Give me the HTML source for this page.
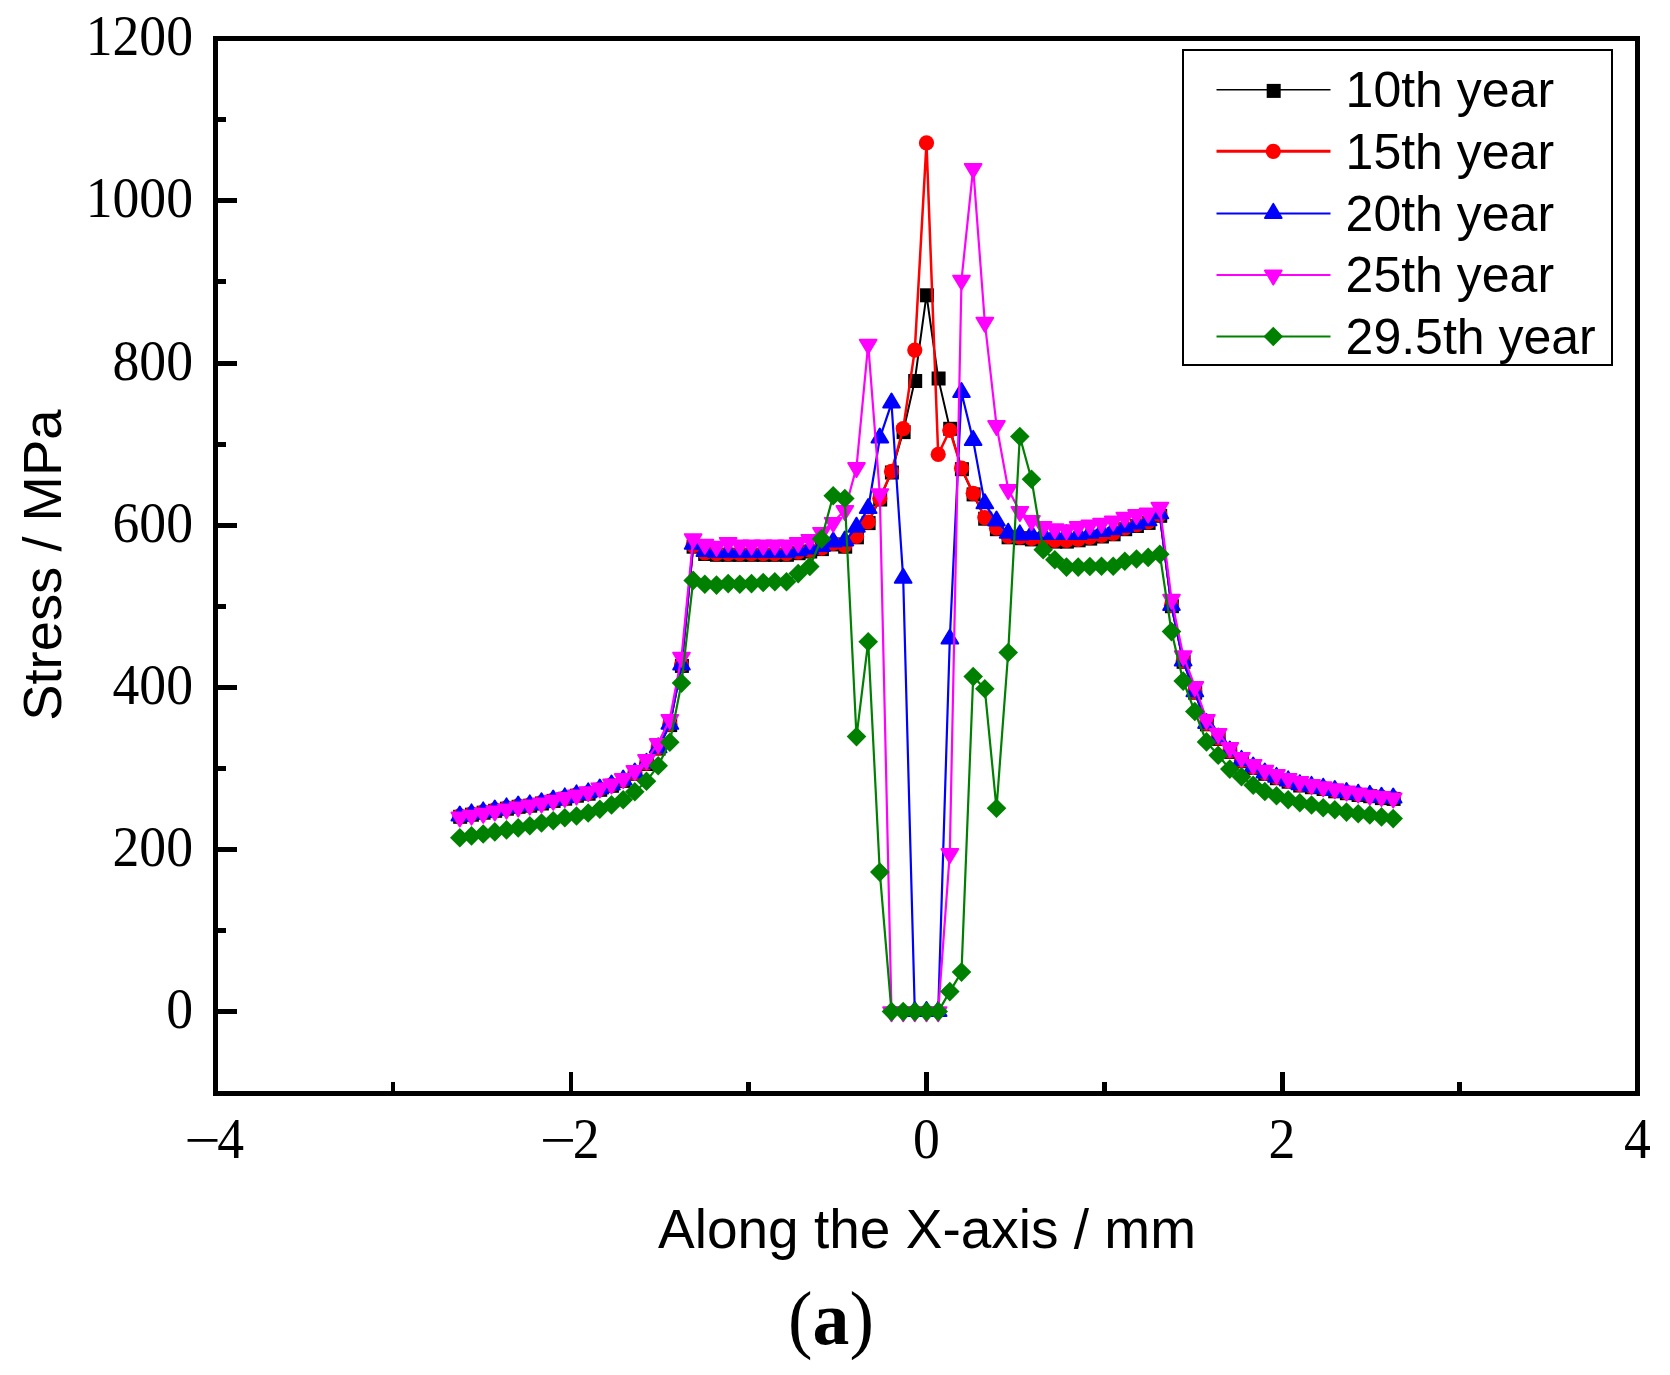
<!DOCTYPE html>
<html lang="en"><head><meta charset="utf-8"><title>Stress along the X-axis</title>
<style>
html,body{margin:0;padding:0;background:#fff;}
body{width:1670px;height:1375px;overflow:hidden;}
svg{display:block;}
.ser{font-family:"Liberation Serif","Times New Roman",serif;font-size:56px;fill:#000;}
.san{font-family:"Liberation Sans",Arial,sans-serif;fill:#000;}
</style></head><body>
<svg width="1670" height="1375" viewBox="0 0 1670 1375" role="img" aria-label="Stress along the X-axis for different years">
<rect x="0" y="0" width="1670" height="1375" fill="#ffffff"/>
<g><polyline points="459.8,816.4 471.5,814.3 483.2,812.3 494.8,810.4 506.5,808.3 518.2,806.4 529.8,805.3 541.5,803.1 553.2,800.5 564.8,798.3 576.5,795.3 588.2,793.3 599.8,789.4 611.5,785.4 623.2,780.5 634.8,773.4 646.5,763.6 658.2,748.2 669.8,724.7 681.5,665.5 693.2,546.3 704.8,553.6 716.5,554.4 728.2,554.4 739.8,554.4 751.5,554.4 763.2,554.4 774.8,554.4 786.5,554.4 798.2,552.8 809.8,551.1 821.5,548.7 833.2,544.0 844.8,546.3 856.5,536.9 868.2,522.7 879.8,499.1 891.5,472.1 903.2,431.7 914.8,380.6 926.5,294.9 938.2,378.1 949.8,428.4 961.5,468.8 973.2,494.0 984.8,518.3 996.5,528.8 1008.2,536.9 1019.8,537.8 1031.5,539.0 1043.2,539.5 1054.8,541.2 1066.5,541.2 1078.2,539.9 1089.8,538.2 1101.5,536.1 1113.2,533.9 1124.8,528.8 1136.5,525.6 1148.2,522.5 1159.8,515.4 1171.5,605.8 1183.2,661.4 1194.8,692.3 1206.5,723.9 1218.2,738.5 1229.8,751.5 1241.5,760.8 1253.2,767.5 1264.8,773.4 1276.5,777.8 1288.2,781.3 1299.8,785.1 1311.5,786.8 1323.2,788.6 1334.8,790.9 1346.5,792.8 1358.2,794.6 1369.8,795.8 1381.5,797.7 1393.2,798.5" fill="none" stroke="#000000" stroke-width="2.0" stroke-linejoin="round"/>
<rect x="453.2" y="809.8" width="14" height="14" fill="#000000"/><rect x="464.9" y="807.7" width="14" height="14" fill="#000000"/><rect x="476.6" y="805.7" width="14" height="14" fill="#000000"/><rect x="488.2" y="803.8" width="14" height="14" fill="#000000"/><rect x="499.9" y="801.7" width="14" height="14" fill="#000000"/><rect x="511.6" y="799.8" width="14" height="14" fill="#000000"/><rect x="523.2" y="798.7" width="14" height="14" fill="#000000"/><rect x="534.9" y="796.5" width="14" height="14" fill="#000000"/><rect x="546.6" y="793.9" width="14" height="14" fill="#000000"/><rect x="558.2" y="791.7" width="14" height="14" fill="#000000"/><rect x="569.9" y="788.7" width="14" height="14" fill="#000000"/><rect x="581.6" y="786.7" width="14" height="14" fill="#000000"/><rect x="593.2" y="782.8" width="14" height="14" fill="#000000"/><rect x="604.9" y="778.8" width="14" height="14" fill="#000000"/><rect x="616.6" y="773.9" width="14" height="14" fill="#000000"/><rect x="628.2" y="766.8" width="14" height="14" fill="#000000"/><rect x="639.9" y="757.0" width="14" height="14" fill="#000000"/><rect x="651.6" y="741.6" width="14" height="14" fill="#000000"/><rect x="663.2" y="718.1" width="14" height="14" fill="#000000"/><rect x="674.9" y="658.9" width="14" height="14" fill="#000000"/><rect x="686.6" y="539.7" width="14" height="14" fill="#000000"/><rect x="698.2" y="547.0" width="14" height="14" fill="#000000"/><rect x="709.9" y="547.8" width="14" height="14" fill="#000000"/><rect x="721.6" y="547.8" width="14" height="14" fill="#000000"/><rect x="733.2" y="547.8" width="14" height="14" fill="#000000"/><rect x="744.9" y="547.8" width="14" height="14" fill="#000000"/><rect x="756.6" y="547.8" width="14" height="14" fill="#000000"/><rect x="768.2" y="547.8" width="14" height="14" fill="#000000"/><rect x="779.9" y="547.8" width="14" height="14" fill="#000000"/><rect x="791.6" y="546.2" width="14" height="14" fill="#000000"/><rect x="803.2" y="544.5" width="14" height="14" fill="#000000"/><rect x="814.9" y="542.1" width="14" height="14" fill="#000000"/><rect x="826.6" y="537.4" width="14" height="14" fill="#000000"/><rect x="838.2" y="539.7" width="14" height="14" fill="#000000"/><rect x="849.9" y="530.3" width="14" height="14" fill="#000000"/><rect x="861.6" y="516.1" width="14" height="14" fill="#000000"/><rect x="873.2" y="492.5" width="14" height="14" fill="#000000"/><rect x="884.9" y="465.5" width="14" height="14" fill="#000000"/><rect x="896.6" y="425.1" width="14" height="14" fill="#000000"/><rect x="908.2" y="374.0" width="14" height="14" fill="#000000"/><rect x="919.9" y="288.3" width="14" height="14" fill="#000000"/><rect x="931.6" y="371.5" width="14" height="14" fill="#000000"/><rect x="943.2" y="421.8" width="14" height="14" fill="#000000"/><rect x="954.9" y="462.2" width="14" height="14" fill="#000000"/><rect x="966.6" y="487.4" width="14" height="14" fill="#000000"/><rect x="978.2" y="511.7" width="14" height="14" fill="#000000"/><rect x="989.9" y="522.2" width="14" height="14" fill="#000000"/><rect x="1001.6" y="530.3" width="14" height="14" fill="#000000"/><rect x="1013.2" y="531.2" width="14" height="14" fill="#000000"/><rect x="1024.9" y="532.4" width="14" height="14" fill="#000000"/><rect x="1036.6" y="532.9" width="14" height="14" fill="#000000"/><rect x="1048.2" y="534.6" width="14" height="14" fill="#000000"/><rect x="1059.9" y="534.6" width="14" height="14" fill="#000000"/><rect x="1071.6" y="533.3" width="14" height="14" fill="#000000"/><rect x="1083.2" y="531.6" width="14" height="14" fill="#000000"/><rect x="1094.9" y="529.5" width="14" height="14" fill="#000000"/><rect x="1106.6" y="527.3" width="14" height="14" fill="#000000"/><rect x="1118.2" y="522.2" width="14" height="14" fill="#000000"/><rect x="1129.9" y="519.0" width="14" height="14" fill="#000000"/><rect x="1141.6" y="515.9" width="14" height="14" fill="#000000"/><rect x="1153.2" y="508.8" width="14" height="14" fill="#000000"/><rect x="1164.9" y="599.2" width="14" height="14" fill="#000000"/><rect x="1176.6" y="654.8" width="14" height="14" fill="#000000"/><rect x="1188.2" y="685.7" width="14" height="14" fill="#000000"/><rect x="1199.9" y="717.3" width="14" height="14" fill="#000000"/><rect x="1211.6" y="731.9" width="14" height="14" fill="#000000"/><rect x="1223.2" y="744.9" width="14" height="14" fill="#000000"/><rect x="1234.9" y="754.2" width="14" height="14" fill="#000000"/><rect x="1246.6" y="760.9" width="14" height="14" fill="#000000"/><rect x="1258.2" y="766.8" width="14" height="14" fill="#000000"/><rect x="1269.9" y="771.2" width="14" height="14" fill="#000000"/><rect x="1281.6" y="774.7" width="14" height="14" fill="#000000"/><rect x="1293.2" y="778.5" width="14" height="14" fill="#000000"/><rect x="1304.9" y="780.2" width="14" height="14" fill="#000000"/><rect x="1316.6" y="782.0" width="14" height="14" fill="#000000"/><rect x="1328.2" y="784.3" width="14" height="14" fill="#000000"/><rect x="1339.9" y="786.2" width="14" height="14" fill="#000000"/><rect x="1351.6" y="788.0" width="14" height="14" fill="#000000"/><rect x="1363.2" y="789.2" width="14" height="14" fill="#000000"/><rect x="1374.9" y="791.1" width="14" height="14" fill="#000000"/><rect x="1386.6" y="791.9" width="14" height="14" fill="#000000"/>
</g>
<g><polyline points="459.8,815.9 471.5,813.8 483.2,811.8 494.8,809.9 506.5,807.8 518.2,805.9 529.8,804.8 541.5,802.7 553.2,800.0 564.8,797.8 576.5,794.8 588.2,792.8 599.8,789.0 611.5,784.9 623.2,780.0 634.8,772.9 646.5,763.2 658.2,747.7 669.8,724.2 681.5,665.0 693.2,545.6 704.8,552.9 716.5,553.7 728.2,553.7 739.8,553.7 751.5,553.7 763.2,553.7 774.8,553.7 786.5,553.7 798.2,552.1 809.8,550.5 821.5,548.1 833.2,543.4 844.8,545.6 856.5,536.3 868.2,522.0 879.8,498.4 891.5,471.4 903.2,428.6 914.8,350.1 926.5,142.9 938.2,454.4 949.8,430.3 961.5,468.2 973.2,493.3 984.8,517.6 996.5,528.2 1008.2,536.3 1019.8,537.1 1031.5,538.3 1043.2,538.9 1054.8,540.5 1066.5,540.5 1078.2,539.3 1089.8,537.5 1101.5,535.5 1113.2,533.3 1124.8,528.2 1136.5,524.9 1148.2,521.9 1159.8,514.7 1171.5,605.3 1183.2,661.0 1194.8,691.8 1206.5,723.4 1218.2,738.0 1229.8,751.0 1241.5,760.3 1253.2,767.1 1264.8,772.9 1276.5,777.3 1288.2,780.8 1299.8,784.7 1311.5,786.3 1323.2,788.1 1334.8,790.4 1346.5,792.4 1358.2,794.1 1369.8,795.3 1381.5,797.2 1393.2,798.0" fill="none" stroke="#ff0000" stroke-width="2.5" stroke-linejoin="round"/>
<circle cx="459.8" cy="815.9" r="7.6" fill="#ff0000"/><circle cx="471.5" cy="813.8" r="7.6" fill="#ff0000"/><circle cx="483.2" cy="811.8" r="7.6" fill="#ff0000"/><circle cx="494.8" cy="809.9" r="7.6" fill="#ff0000"/><circle cx="506.5" cy="807.8" r="7.6" fill="#ff0000"/><circle cx="518.2" cy="805.9" r="7.6" fill="#ff0000"/><circle cx="529.8" cy="804.8" r="7.6" fill="#ff0000"/><circle cx="541.5" cy="802.7" r="7.6" fill="#ff0000"/><circle cx="553.2" cy="800.0" r="7.6" fill="#ff0000"/><circle cx="564.8" cy="797.8" r="7.6" fill="#ff0000"/><circle cx="576.5" cy="794.8" r="7.6" fill="#ff0000"/><circle cx="588.2" cy="792.8" r="7.6" fill="#ff0000"/><circle cx="599.8" cy="789.0" r="7.6" fill="#ff0000"/><circle cx="611.5" cy="784.9" r="7.6" fill="#ff0000"/><circle cx="623.2" cy="780.0" r="7.6" fill="#ff0000"/><circle cx="634.8" cy="772.9" r="7.6" fill="#ff0000"/><circle cx="646.5" cy="763.2" r="7.6" fill="#ff0000"/><circle cx="658.2" cy="747.7" r="7.6" fill="#ff0000"/><circle cx="669.8" cy="724.2" r="7.6" fill="#ff0000"/><circle cx="681.5" cy="665.0" r="7.6" fill="#ff0000"/><circle cx="693.2" cy="545.6" r="7.6" fill="#ff0000"/><circle cx="704.8" cy="552.9" r="7.6" fill="#ff0000"/><circle cx="716.5" cy="553.7" r="7.6" fill="#ff0000"/><circle cx="728.2" cy="553.7" r="7.6" fill="#ff0000"/><circle cx="739.8" cy="553.7" r="7.6" fill="#ff0000"/><circle cx="751.5" cy="553.7" r="7.6" fill="#ff0000"/><circle cx="763.2" cy="553.7" r="7.6" fill="#ff0000"/><circle cx="774.8" cy="553.7" r="7.6" fill="#ff0000"/><circle cx="786.5" cy="553.7" r="7.6" fill="#ff0000"/><circle cx="798.2" cy="552.1" r="7.6" fill="#ff0000"/><circle cx="809.8" cy="550.5" r="7.6" fill="#ff0000"/><circle cx="821.5" cy="548.1" r="7.6" fill="#ff0000"/><circle cx="833.2" cy="543.4" r="7.6" fill="#ff0000"/><circle cx="844.8" cy="545.6" r="7.6" fill="#ff0000"/><circle cx="856.5" cy="536.3" r="7.6" fill="#ff0000"/><circle cx="868.2" cy="522.0" r="7.6" fill="#ff0000"/><circle cx="879.8" cy="498.4" r="7.6" fill="#ff0000"/><circle cx="891.5" cy="471.4" r="7.6" fill="#ff0000"/><circle cx="903.2" cy="428.6" r="7.6" fill="#ff0000"/><circle cx="914.8" cy="350.1" r="7.6" fill="#ff0000"/><circle cx="926.5" cy="142.9" r="7.6" fill="#ff0000"/><circle cx="938.2" cy="454.4" r="7.6" fill="#ff0000"/><circle cx="949.8" cy="430.3" r="7.6" fill="#ff0000"/><circle cx="961.5" cy="468.2" r="7.6" fill="#ff0000"/><circle cx="973.2" cy="493.3" r="7.6" fill="#ff0000"/><circle cx="984.8" cy="517.6" r="7.6" fill="#ff0000"/><circle cx="996.5" cy="528.2" r="7.6" fill="#ff0000"/><circle cx="1008.2" cy="536.3" r="7.6" fill="#ff0000"/><circle cx="1019.8" cy="537.1" r="7.6" fill="#ff0000"/><circle cx="1031.5" cy="538.3" r="7.6" fill="#ff0000"/><circle cx="1043.2" cy="538.9" r="7.6" fill="#ff0000"/><circle cx="1054.8" cy="540.5" r="7.6" fill="#ff0000"/><circle cx="1066.5" cy="540.5" r="7.6" fill="#ff0000"/><circle cx="1078.2" cy="539.3" r="7.6" fill="#ff0000"/><circle cx="1089.8" cy="537.5" r="7.6" fill="#ff0000"/><circle cx="1101.5" cy="535.5" r="7.6" fill="#ff0000"/><circle cx="1113.2" cy="533.3" r="7.6" fill="#ff0000"/><circle cx="1124.8" cy="528.2" r="7.6" fill="#ff0000"/><circle cx="1136.5" cy="524.9" r="7.6" fill="#ff0000"/><circle cx="1148.2" cy="521.9" r="7.6" fill="#ff0000"/><circle cx="1159.8" cy="514.7" r="7.6" fill="#ff0000"/><circle cx="1171.5" cy="605.3" r="7.6" fill="#ff0000"/><circle cx="1183.2" cy="661.0" r="7.6" fill="#ff0000"/><circle cx="1194.8" cy="691.8" r="7.6" fill="#ff0000"/><circle cx="1206.5" cy="723.4" r="7.6" fill="#ff0000"/><circle cx="1218.2" cy="738.0" r="7.6" fill="#ff0000"/><circle cx="1229.8" cy="751.0" r="7.6" fill="#ff0000"/><circle cx="1241.5" cy="760.3" r="7.6" fill="#ff0000"/><circle cx="1253.2" cy="767.1" r="7.6" fill="#ff0000"/><circle cx="1264.8" cy="772.9" r="7.6" fill="#ff0000"/><circle cx="1276.5" cy="777.3" r="7.6" fill="#ff0000"/><circle cx="1288.2" cy="780.8" r="7.6" fill="#ff0000"/><circle cx="1299.8" cy="784.7" r="7.6" fill="#ff0000"/><circle cx="1311.5" cy="786.3" r="7.6" fill="#ff0000"/><circle cx="1323.2" cy="788.1" r="7.6" fill="#ff0000"/><circle cx="1334.8" cy="790.4" r="7.6" fill="#ff0000"/><circle cx="1346.5" cy="792.4" r="7.6" fill="#ff0000"/><circle cx="1358.2" cy="794.1" r="7.6" fill="#ff0000"/><circle cx="1369.8" cy="795.3" r="7.6" fill="#ff0000"/><circle cx="1381.5" cy="797.2" r="7.6" fill="#ff0000"/><circle cx="1393.2" cy="798.0" r="7.6" fill="#ff0000"/>
</g>
<g><polyline points="459.8,816.1 471.5,814.0 483.2,812.1 494.8,810.1 506.5,808.0 518.2,806.1 529.8,805.0 541.5,802.9 553.2,800.2 564.8,798.0 576.5,795.0 588.2,793.0 599.8,789.2 611.5,785.1 623.2,780.3 634.8,773.1 646.5,763.4 658.2,748.0 669.8,724.5 681.5,665.3 693.2,544.4 704.8,551.7 716.5,552.5 728.2,552.5 739.8,552.5 751.5,552.5 763.2,552.5 774.8,552.5 786.5,552.5 798.2,550.9 809.8,549.3 821.5,546.8 833.2,542.1 844.8,541.2 856.5,527.4 868.2,508.7 879.8,438.2 891.5,403.3 903.2,578.5 914.8,1011.6 926.5,1011.6 938.2,1011.6 949.8,639.3 961.5,392.7 973.2,440.6 984.8,503.9 996.5,521.1 1008.2,533.4 1019.8,535.1 1031.5,534.8 1043.2,534.8 1054.8,534.8 1066.5,534.8 1078.2,534.8 1089.8,533.5 1101.5,531.8 1113.2,530.0 1124.8,527.4 1136.5,524.1 1148.2,521.0 1159.8,513.9 1171.5,605.6 1183.2,661.2 1194.8,692.0 1206.5,723.7 1218.2,738.3 1229.8,751.2 1241.5,760.6 1253.2,767.3 1264.8,773.1 1276.5,777.5 1288.2,781.1 1299.8,784.9 1311.5,786.5 1323.2,788.4 1334.8,790.7 1346.5,792.6 1358.2,794.4 1369.8,795.5 1381.5,797.5 1393.2,798.3" fill="none" stroke="#0000ff" stroke-width="2.2" stroke-linejoin="round"/>
<polygon points="459.8,806.5 468.2,820.4 451.5,820.4" fill="#0000ff" stroke="#0000ff" stroke-width="2" stroke-linejoin="round"/><polygon points="471.5,804.4 479.8,818.3 463.1,818.3" fill="#0000ff" stroke="#0000ff" stroke-width="2" stroke-linejoin="round"/><polygon points="483.2,802.4 491.5,816.4 474.8,816.4" fill="#0000ff" stroke="#0000ff" stroke-width="2" stroke-linejoin="round"/><polygon points="494.8,800.5 503.2,814.4 486.5,814.4" fill="#0000ff" stroke="#0000ff" stroke-width="2" stroke-linejoin="round"/><polygon points="506.5,798.4 514.8,812.3 498.1,812.3" fill="#0000ff" stroke="#0000ff" stroke-width="2" stroke-linejoin="round"/><polygon points="518.2,796.5 526.5,810.4 509.8,810.4" fill="#0000ff" stroke="#0000ff" stroke-width="2" stroke-linejoin="round"/><polygon points="529.8,795.4 538.2,809.3 521.5,809.3" fill="#0000ff" stroke="#0000ff" stroke-width="2" stroke-linejoin="round"/><polygon points="541.5,793.3 549.8,807.2 533.1,807.2" fill="#0000ff" stroke="#0000ff" stroke-width="2" stroke-linejoin="round"/><polygon points="553.2,790.6 561.5,804.5 544.8,804.5" fill="#0000ff" stroke="#0000ff" stroke-width="2" stroke-linejoin="round"/><polygon points="564.8,788.4 573.2,802.3 556.5,802.3" fill="#0000ff" stroke="#0000ff" stroke-width="2" stroke-linejoin="round"/><polygon points="576.5,785.4 584.8,799.3 568.1,799.3" fill="#0000ff" stroke="#0000ff" stroke-width="2" stroke-linejoin="round"/><polygon points="588.2,783.4 596.5,797.3 579.8,797.3" fill="#0000ff" stroke="#0000ff" stroke-width="2" stroke-linejoin="round"/><polygon points="599.8,779.5 608.2,793.5 591.5,793.5" fill="#0000ff" stroke="#0000ff" stroke-width="2" stroke-linejoin="round"/><polygon points="611.5,775.5 619.8,789.4 603.2,789.4" fill="#0000ff" stroke="#0000ff" stroke-width="2" stroke-linejoin="round"/><polygon points="623.2,770.6 631.5,784.6 614.8,784.6" fill="#0000ff" stroke="#0000ff" stroke-width="2" stroke-linejoin="round"/><polygon points="634.8,763.5 643.2,777.4 626.5,777.4" fill="#0000ff" stroke="#0000ff" stroke-width="2" stroke-linejoin="round"/><polygon points="646.5,753.8 654.8,767.7 638.2,767.7" fill="#0000ff" stroke="#0000ff" stroke-width="2" stroke-linejoin="round"/><polygon points="658.2,738.3 666.5,752.3 649.8,752.3" fill="#0000ff" stroke="#0000ff" stroke-width="2" stroke-linejoin="round"/><polygon points="669.8,714.8 678.2,728.8 661.5,728.8" fill="#0000ff" stroke="#0000ff" stroke-width="2" stroke-linejoin="round"/><polygon points="681.5,655.6 689.8,669.6 673.2,669.6" fill="#0000ff" stroke="#0000ff" stroke-width="2" stroke-linejoin="round"/><polygon points="693.2,534.8 701.5,548.7 684.8,548.7" fill="#0000ff" stroke="#0000ff" stroke-width="2" stroke-linejoin="round"/><polygon points="704.8,542.1 713.2,556.0 696.5,556.0" fill="#0000ff" stroke="#0000ff" stroke-width="2" stroke-linejoin="round"/><polygon points="716.5,542.9 724.8,556.8 708.2,556.8" fill="#0000ff" stroke="#0000ff" stroke-width="2" stroke-linejoin="round"/><polygon points="728.2,542.9 736.5,556.8 719.8,556.8" fill="#0000ff" stroke="#0000ff" stroke-width="2" stroke-linejoin="round"/><polygon points="739.8,542.9 748.2,556.8 731.5,556.8" fill="#0000ff" stroke="#0000ff" stroke-width="2" stroke-linejoin="round"/><polygon points="751.5,542.9 759.8,556.8 743.2,556.8" fill="#0000ff" stroke="#0000ff" stroke-width="2" stroke-linejoin="round"/><polygon points="763.2,542.9 771.5,556.8 754.8,556.8" fill="#0000ff" stroke="#0000ff" stroke-width="2" stroke-linejoin="round"/><polygon points="774.8,542.9 783.2,556.8 766.5,556.8" fill="#0000ff" stroke="#0000ff" stroke-width="2" stroke-linejoin="round"/><polygon points="786.5,542.9 794.8,556.8 778.2,556.8" fill="#0000ff" stroke="#0000ff" stroke-width="2" stroke-linejoin="round"/><polygon points="798.2,541.2 806.5,555.2 789.8,555.2" fill="#0000ff" stroke="#0000ff" stroke-width="2" stroke-linejoin="round"/><polygon points="809.8,539.6 818.2,553.6 801.5,553.6" fill="#0000ff" stroke="#0000ff" stroke-width="2" stroke-linejoin="round"/><polygon points="821.5,537.2 829.8,551.1 813.2,551.1" fill="#0000ff" stroke="#0000ff" stroke-width="2" stroke-linejoin="round"/><polygon points="833.2,532.5 841.5,546.4 824.8,546.4" fill="#0000ff" stroke="#0000ff" stroke-width="2" stroke-linejoin="round"/><polygon points="844.8,531.5 853.2,545.5 836.5,545.5" fill="#0000ff" stroke="#0000ff" stroke-width="2" stroke-linejoin="round"/><polygon points="856.5,517.7 864.8,531.7 848.2,531.7" fill="#0000ff" stroke="#0000ff" stroke-width="2" stroke-linejoin="round"/><polygon points="868.2,499.1 876.5,513.0 859.8,513.0" fill="#0000ff" stroke="#0000ff" stroke-width="2" stroke-linejoin="round"/><polygon points="879.8,428.5 888.2,442.5 871.5,442.5" fill="#0000ff" stroke="#0000ff" stroke-width="2" stroke-linejoin="round"/><polygon points="891.5,393.6 899.8,407.6 883.2,407.6" fill="#0000ff" stroke="#0000ff" stroke-width="2" stroke-linejoin="round"/><polygon points="903.2,568.8 911.5,582.8 894.8,582.8" fill="#0000ff" stroke="#0000ff" stroke-width="2" stroke-linejoin="round"/><polygon points="914.8,1002.0 923.2,1015.9 906.5,1015.9" fill="#0000ff" stroke="#0000ff" stroke-width="2" stroke-linejoin="round"/><polygon points="926.5,1002.0 934.8,1015.9 918.2,1015.9" fill="#0000ff" stroke="#0000ff" stroke-width="2" stroke-linejoin="round"/><polygon points="938.2,1002.0 946.5,1015.9 929.8,1015.9" fill="#0000ff" stroke="#0000ff" stroke-width="2" stroke-linejoin="round"/><polygon points="949.8,629.7 958.2,643.6 941.5,643.6" fill="#0000ff" stroke="#0000ff" stroke-width="2" stroke-linejoin="round"/><polygon points="961.5,383.1 969.8,397.0 953.2,397.0" fill="#0000ff" stroke="#0000ff" stroke-width="2" stroke-linejoin="round"/><polygon points="973.2,430.9 981.5,444.9 964.8,444.9" fill="#0000ff" stroke="#0000ff" stroke-width="2" stroke-linejoin="round"/><polygon points="984.8,494.2 993.2,508.2 976.5,508.2" fill="#0000ff" stroke="#0000ff" stroke-width="2" stroke-linejoin="round"/><polygon points="996.5,511.5 1004.8,525.4 988.2,525.4" fill="#0000ff" stroke="#0000ff" stroke-width="2" stroke-linejoin="round"/><polygon points="1008.2,523.7 1016.5,537.7 999.8,537.7" fill="#0000ff" stroke="#0000ff" stroke-width="2" stroke-linejoin="round"/><polygon points="1019.8,525.4 1028.2,539.4 1011.5,539.4" fill="#0000ff" stroke="#0000ff" stroke-width="2" stroke-linejoin="round"/><polygon points="1031.5,525.2 1039.8,539.1 1023.2,539.1" fill="#0000ff" stroke="#0000ff" stroke-width="2" stroke-linejoin="round"/><polygon points="1043.2,525.2 1051.5,539.1 1034.8,539.1" fill="#0000ff" stroke="#0000ff" stroke-width="2" stroke-linejoin="round"/><polygon points="1054.8,525.2 1063.2,539.1 1046.5,539.1" fill="#0000ff" stroke="#0000ff" stroke-width="2" stroke-linejoin="round"/><polygon points="1066.5,525.2 1074.8,539.1 1058.2,539.1" fill="#0000ff" stroke="#0000ff" stroke-width="2" stroke-linejoin="round"/><polygon points="1078.2,525.2 1086.5,539.1 1069.8,539.1" fill="#0000ff" stroke="#0000ff" stroke-width="2" stroke-linejoin="round"/><polygon points="1089.8,523.8 1098.2,537.8 1081.5,537.8" fill="#0000ff" stroke="#0000ff" stroke-width="2" stroke-linejoin="round"/><polygon points="1101.5,522.2 1109.8,536.1 1093.2,536.1" fill="#0000ff" stroke="#0000ff" stroke-width="2" stroke-linejoin="round"/><polygon points="1113.2,520.4 1121.5,534.3 1104.8,534.3" fill="#0000ff" stroke="#0000ff" stroke-width="2" stroke-linejoin="round"/><polygon points="1124.8,517.7 1133.2,531.7 1116.5,531.7" fill="#0000ff" stroke="#0000ff" stroke-width="2" stroke-linejoin="round"/><polygon points="1136.5,514.5 1144.8,528.4 1128.2,528.4" fill="#0000ff" stroke="#0000ff" stroke-width="2" stroke-linejoin="round"/><polygon points="1148.2,511.4 1156.5,525.3 1139.8,525.3" fill="#0000ff" stroke="#0000ff" stroke-width="2" stroke-linejoin="round"/><polygon points="1159.8,504.3 1168.2,518.2 1151.5,518.2" fill="#0000ff" stroke="#0000ff" stroke-width="2" stroke-linejoin="round"/><polygon points="1171.5,595.9 1179.8,609.9 1163.2,609.9" fill="#0000ff" stroke="#0000ff" stroke-width="2" stroke-linejoin="round"/><polygon points="1183.2,651.6 1191.5,665.5 1174.8,665.5" fill="#0000ff" stroke="#0000ff" stroke-width="2" stroke-linejoin="round"/><polygon points="1194.8,682.4 1203.2,696.3 1186.5,696.3" fill="#0000ff" stroke="#0000ff" stroke-width="2" stroke-linejoin="round"/><polygon points="1206.5,714.0 1214.8,728.0 1198.2,728.0" fill="#0000ff" stroke="#0000ff" stroke-width="2" stroke-linejoin="round"/><polygon points="1218.2,728.6 1226.5,742.6 1209.8,742.6" fill="#0000ff" stroke="#0000ff" stroke-width="2" stroke-linejoin="round"/><polygon points="1229.8,741.6 1238.2,755.5 1221.5,755.5" fill="#0000ff" stroke="#0000ff" stroke-width="2" stroke-linejoin="round"/><polygon points="1241.5,750.9 1249.8,764.9 1233.2,764.9" fill="#0000ff" stroke="#0000ff" stroke-width="2" stroke-linejoin="round"/><polygon points="1253.2,757.6 1261.5,771.6 1244.8,771.6" fill="#0000ff" stroke="#0000ff" stroke-width="2" stroke-linejoin="round"/><polygon points="1264.8,763.5 1273.2,777.4 1256.5,777.4" fill="#0000ff" stroke="#0000ff" stroke-width="2" stroke-linejoin="round"/><polygon points="1276.5,767.9 1284.8,781.8 1268.2,781.8" fill="#0000ff" stroke="#0000ff" stroke-width="2" stroke-linejoin="round"/><polygon points="1288.2,771.4 1296.5,785.4 1279.8,785.4" fill="#0000ff" stroke="#0000ff" stroke-width="2" stroke-linejoin="round"/><polygon points="1299.8,775.2 1308.2,789.2 1291.5,789.2" fill="#0000ff" stroke="#0000ff" stroke-width="2" stroke-linejoin="round"/><polygon points="1311.5,776.9 1319.9,790.8 1303.2,790.8" fill="#0000ff" stroke="#0000ff" stroke-width="2" stroke-linejoin="round"/><polygon points="1323.2,778.7 1331.5,792.7 1314.8,792.7" fill="#0000ff" stroke="#0000ff" stroke-width="2" stroke-linejoin="round"/><polygon points="1334.8,781.0 1343.2,795.0 1326.5,795.0" fill="#0000ff" stroke="#0000ff" stroke-width="2" stroke-linejoin="round"/><polygon points="1346.5,783.0 1354.9,796.9 1338.2,796.9" fill="#0000ff" stroke="#0000ff" stroke-width="2" stroke-linejoin="round"/><polygon points="1358.2,784.7 1366.5,798.7 1349.8,798.7" fill="#0000ff" stroke="#0000ff" stroke-width="2" stroke-linejoin="round"/><polygon points="1369.8,785.9 1378.2,799.8 1361.5,799.8" fill="#0000ff" stroke="#0000ff" stroke-width="2" stroke-linejoin="round"/><polygon points="1381.5,787.8 1389.9,801.8 1373.2,801.8" fill="#0000ff" stroke="#0000ff" stroke-width="2" stroke-linejoin="round"/><polygon points="1393.2,788.6 1401.5,802.6 1384.8,802.6" fill="#0000ff" stroke="#0000ff" stroke-width="2" stroke-linejoin="round"/>
</g>
<g><polyline points="459.8,816.8 471.5,815.0 483.2,813.0 494.8,810.9 506.5,808.9 518.2,806.8 529.8,804.9 541.5,802.8 553.2,800.1 564.8,797.4 576.5,794.7 588.2,791.5 599.8,787.7 611.5,783.8 623.2,778.4 634.8,770.3 646.5,759.4 658.2,743.3 669.8,719.2 681.5,657.0 693.2,538.5 704.8,544.0 716.5,546.0 728.2,542.2 739.8,544.9 751.5,544.9 763.2,544.9 774.8,544.9 786.5,544.9 798.2,542.3 809.8,539.2 821.5,532.2 833.2,522.2 844.8,510.3 856.5,467.4 868.2,344.1 879.8,493.6 891.5,1011.6 903.2,1011.6 914.8,1011.6 926.5,1011.6 938.2,1011.6 949.8,853.4 961.5,280.0 973.2,168.2 984.8,322.0 996.5,425.3 1008.2,489.3 1019.8,511.3 1031.5,520.3 1043.2,526.2 1054.8,528.6 1066.5,529.6 1078.2,526.3 1089.8,524.8 1101.5,523.1 1113.2,520.9 1124.8,517.1 1136.5,514.4 1148.2,512.8 1159.8,507.1 1171.5,599.1 1183.2,655.5 1194.8,686.3 1206.5,719.2 1218.2,733.4 1229.8,747.4 1241.5,757.2 1253.2,764.2 1264.8,770.0 1276.5,774.2 1288.2,778.3 1299.8,781.2 1311.5,784.2 1323.2,786.5 1334.8,788.6 1346.5,790.7 1358.2,792.8 1369.8,795.1 1381.5,796.4 1393.2,797.9" fill="none" stroke="#ff00ff" stroke-width="2.2" stroke-linejoin="round"/>
<polygon points="451.5,812.5 468.2,812.5 459.8,826.4" fill="#ff00ff" stroke="#ff00ff" stroke-width="2" stroke-linejoin="round"/><polygon points="463.1,810.7 479.8,810.7 471.5,824.6" fill="#ff00ff" stroke="#ff00ff" stroke-width="2" stroke-linejoin="round"/><polygon points="474.8,808.7 491.5,808.7 483.2,822.7" fill="#ff00ff" stroke="#ff00ff" stroke-width="2" stroke-linejoin="round"/><polygon points="486.5,806.6 503.2,806.6 494.8,820.5" fill="#ff00ff" stroke="#ff00ff" stroke-width="2" stroke-linejoin="round"/><polygon points="498.1,804.6 514.8,804.6 506.5,818.6" fill="#ff00ff" stroke="#ff00ff" stroke-width="2" stroke-linejoin="round"/><polygon points="509.8,802.5 526.5,802.5 518.2,816.4" fill="#ff00ff" stroke="#ff00ff" stroke-width="2" stroke-linejoin="round"/><polygon points="521.5,800.6 538.2,800.6 529.8,814.6" fill="#ff00ff" stroke="#ff00ff" stroke-width="2" stroke-linejoin="round"/><polygon points="533.1,798.5 549.8,798.5 541.5,812.5" fill="#ff00ff" stroke="#ff00ff" stroke-width="2" stroke-linejoin="round"/><polygon points="544.8,795.8 561.5,795.8 553.2,809.7" fill="#ff00ff" stroke="#ff00ff" stroke-width="2" stroke-linejoin="round"/><polygon points="556.5,793.1 573.2,793.1 564.8,807.0" fill="#ff00ff" stroke="#ff00ff" stroke-width="2" stroke-linejoin="round"/><polygon points="568.1,790.4 584.8,790.4 576.5,804.4" fill="#ff00ff" stroke="#ff00ff" stroke-width="2" stroke-linejoin="round"/><polygon points="579.8,787.2 596.5,787.2 588.2,801.1" fill="#ff00ff" stroke="#ff00ff" stroke-width="2" stroke-linejoin="round"/><polygon points="591.5,783.4 608.2,783.4 599.8,797.4" fill="#ff00ff" stroke="#ff00ff" stroke-width="2" stroke-linejoin="round"/><polygon points="603.2,779.5 619.8,779.5 611.5,793.5" fill="#ff00ff" stroke="#ff00ff" stroke-width="2" stroke-linejoin="round"/><polygon points="614.8,774.1 631.5,774.1 623.2,788.1" fill="#ff00ff" stroke="#ff00ff" stroke-width="2" stroke-linejoin="round"/><polygon points="626.5,766.0 643.2,766.0 634.8,779.9" fill="#ff00ff" stroke="#ff00ff" stroke-width="2" stroke-linejoin="round"/><polygon points="638.2,755.1 654.8,755.1 646.5,769.1" fill="#ff00ff" stroke="#ff00ff" stroke-width="2" stroke-linejoin="round"/><polygon points="649.8,739.0 666.5,739.0 658.2,752.9" fill="#ff00ff" stroke="#ff00ff" stroke-width="2" stroke-linejoin="round"/><polygon points="661.5,714.9 678.2,714.9 669.8,728.8" fill="#ff00ff" stroke="#ff00ff" stroke-width="2" stroke-linejoin="round"/><polygon points="673.2,652.7 689.8,652.7 681.5,666.6" fill="#ff00ff" stroke="#ff00ff" stroke-width="2" stroke-linejoin="round"/><polygon points="684.8,534.2 701.5,534.2 693.2,548.1" fill="#ff00ff" stroke="#ff00ff" stroke-width="2" stroke-linejoin="round"/><polygon points="696.5,539.7 713.2,539.7 704.8,553.7" fill="#ff00ff" stroke="#ff00ff" stroke-width="2" stroke-linejoin="round"/><polygon points="708.2,541.7 724.8,541.7 716.5,555.7" fill="#ff00ff" stroke="#ff00ff" stroke-width="2" stroke-linejoin="round"/><polygon points="719.8,537.9 736.5,537.9 728.2,551.9" fill="#ff00ff" stroke="#ff00ff" stroke-width="2" stroke-linejoin="round"/><polygon points="731.5,540.6 748.2,540.6 739.8,554.5" fill="#ff00ff" stroke="#ff00ff" stroke-width="2" stroke-linejoin="round"/><polygon points="743.2,540.6 759.8,540.6 751.5,554.5" fill="#ff00ff" stroke="#ff00ff" stroke-width="2" stroke-linejoin="round"/><polygon points="754.8,540.6 771.5,540.6 763.2,554.5" fill="#ff00ff" stroke="#ff00ff" stroke-width="2" stroke-linejoin="round"/><polygon points="766.5,540.6 783.2,540.6 774.8,554.5" fill="#ff00ff" stroke="#ff00ff" stroke-width="2" stroke-linejoin="round"/><polygon points="778.2,540.6 794.8,540.6 786.5,554.5" fill="#ff00ff" stroke="#ff00ff" stroke-width="2" stroke-linejoin="round"/><polygon points="789.8,538.0 806.5,538.0 798.2,551.9" fill="#ff00ff" stroke="#ff00ff" stroke-width="2" stroke-linejoin="round"/><polygon points="801.5,534.9 818.2,534.9 809.8,548.9" fill="#ff00ff" stroke="#ff00ff" stroke-width="2" stroke-linejoin="round"/><polygon points="813.2,527.9 829.8,527.9 821.5,541.9" fill="#ff00ff" stroke="#ff00ff" stroke-width="2" stroke-linejoin="round"/><polygon points="824.8,517.9 841.5,517.9 833.2,531.8" fill="#ff00ff" stroke="#ff00ff" stroke-width="2" stroke-linejoin="round"/><polygon points="836.5,506.0 853.2,506.0 844.8,520.0" fill="#ff00ff" stroke="#ff00ff" stroke-width="2" stroke-linejoin="round"/><polygon points="848.2,463.1 864.8,463.1 856.5,477.0" fill="#ff00ff" stroke="#ff00ff" stroke-width="2" stroke-linejoin="round"/><polygon points="859.8,339.8 876.5,339.8 868.2,353.7" fill="#ff00ff" stroke="#ff00ff" stroke-width="2" stroke-linejoin="round"/><polygon points="871.5,489.3 888.2,489.3 879.8,503.3" fill="#ff00ff" stroke="#ff00ff" stroke-width="2" stroke-linejoin="round"/><polygon points="883.2,1007.3 899.8,1007.3 891.5,1021.2" fill="#ff00ff" stroke="#ff00ff" stroke-width="2" stroke-linejoin="round"/><polygon points="894.8,1007.3 911.5,1007.3 903.2,1021.2" fill="#ff00ff" stroke="#ff00ff" stroke-width="2" stroke-linejoin="round"/><polygon points="906.5,1007.3 923.2,1007.3 914.8,1021.2" fill="#ff00ff" stroke="#ff00ff" stroke-width="2" stroke-linejoin="round"/><polygon points="918.2,1007.3 934.8,1007.3 926.5,1021.2" fill="#ff00ff" stroke="#ff00ff" stroke-width="2" stroke-linejoin="round"/><polygon points="929.8,1007.3 946.5,1007.3 938.2,1021.2" fill="#ff00ff" stroke="#ff00ff" stroke-width="2" stroke-linejoin="round"/><polygon points="941.5,849.1 958.2,849.1 949.8,863.1" fill="#ff00ff" stroke="#ff00ff" stroke-width="2" stroke-linejoin="round"/><polygon points="953.2,275.7 969.8,275.7 961.5,289.6" fill="#ff00ff" stroke="#ff00ff" stroke-width="2" stroke-linejoin="round"/><polygon points="964.8,163.9 981.5,163.9 973.2,177.9" fill="#ff00ff" stroke="#ff00ff" stroke-width="2" stroke-linejoin="round"/><polygon points="976.5,317.7 993.2,317.7 984.8,331.7" fill="#ff00ff" stroke="#ff00ff" stroke-width="2" stroke-linejoin="round"/><polygon points="988.2,421.0 1004.8,421.0 996.5,435.0" fill="#ff00ff" stroke="#ff00ff" stroke-width="2" stroke-linejoin="round"/><polygon points="999.8,485.0 1016.5,485.0 1008.2,498.9" fill="#ff00ff" stroke="#ff00ff" stroke-width="2" stroke-linejoin="round"/><polygon points="1011.5,507.0 1028.2,507.0 1019.8,521.0" fill="#ff00ff" stroke="#ff00ff" stroke-width="2" stroke-linejoin="round"/><polygon points="1023.2,516.0 1039.8,516.0 1031.5,530.0" fill="#ff00ff" stroke="#ff00ff" stroke-width="2" stroke-linejoin="round"/><polygon points="1034.8,521.9 1051.5,521.9 1043.2,535.9" fill="#ff00ff" stroke="#ff00ff" stroke-width="2" stroke-linejoin="round"/><polygon points="1046.5,524.3 1063.2,524.3 1054.8,538.2" fill="#ff00ff" stroke="#ff00ff" stroke-width="2" stroke-linejoin="round"/><polygon points="1058.2,525.3 1074.8,525.3 1066.5,539.2" fill="#ff00ff" stroke="#ff00ff" stroke-width="2" stroke-linejoin="round"/><polygon points="1069.8,522.0 1086.5,522.0 1078.2,536.0" fill="#ff00ff" stroke="#ff00ff" stroke-width="2" stroke-linejoin="round"/><polygon points="1081.5,520.5 1098.2,520.5 1089.8,534.4" fill="#ff00ff" stroke="#ff00ff" stroke-width="2" stroke-linejoin="round"/><polygon points="1093.2,518.8 1109.8,518.8 1101.5,532.7" fill="#ff00ff" stroke="#ff00ff" stroke-width="2" stroke-linejoin="round"/><polygon points="1104.8,516.6 1121.5,516.6 1113.2,530.5" fill="#ff00ff" stroke="#ff00ff" stroke-width="2" stroke-linejoin="round"/><polygon points="1116.5,512.8 1133.2,512.8 1124.8,526.7" fill="#ff00ff" stroke="#ff00ff" stroke-width="2" stroke-linejoin="round"/><polygon points="1128.2,510.1 1144.8,510.1 1136.5,524.0" fill="#ff00ff" stroke="#ff00ff" stroke-width="2" stroke-linejoin="round"/><polygon points="1139.8,508.5 1156.5,508.5 1148.2,522.4" fill="#ff00ff" stroke="#ff00ff" stroke-width="2" stroke-linejoin="round"/><polygon points="1151.5,502.8 1168.2,502.8 1159.8,516.7" fill="#ff00ff" stroke="#ff00ff" stroke-width="2" stroke-linejoin="round"/><polygon points="1163.2,594.8 1179.8,594.8 1171.5,608.7" fill="#ff00ff" stroke="#ff00ff" stroke-width="2" stroke-linejoin="round"/><polygon points="1174.8,651.2 1191.5,651.2 1183.2,665.2" fill="#ff00ff" stroke="#ff00ff" stroke-width="2" stroke-linejoin="round"/><polygon points="1186.5,682.0 1203.2,682.0 1194.8,696.0" fill="#ff00ff" stroke="#ff00ff" stroke-width="2" stroke-linejoin="round"/><polygon points="1198.2,714.9 1214.8,714.9 1206.5,728.8" fill="#ff00ff" stroke="#ff00ff" stroke-width="2" stroke-linejoin="round"/><polygon points="1209.8,729.1 1226.5,729.1 1218.2,743.0" fill="#ff00ff" stroke="#ff00ff" stroke-width="2" stroke-linejoin="round"/><polygon points="1221.5,743.1 1238.2,743.1 1229.8,757.1" fill="#ff00ff" stroke="#ff00ff" stroke-width="2" stroke-linejoin="round"/><polygon points="1233.2,752.9 1249.8,752.9 1241.5,766.9" fill="#ff00ff" stroke="#ff00ff" stroke-width="2" stroke-linejoin="round"/><polygon points="1244.8,759.9 1261.5,759.9 1253.2,773.9" fill="#ff00ff" stroke="#ff00ff" stroke-width="2" stroke-linejoin="round"/><polygon points="1256.5,765.7 1273.2,765.7 1264.8,779.6" fill="#ff00ff" stroke="#ff00ff" stroke-width="2" stroke-linejoin="round"/><polygon points="1268.2,769.9 1284.8,769.9 1276.5,783.8" fill="#ff00ff" stroke="#ff00ff" stroke-width="2" stroke-linejoin="round"/><polygon points="1279.8,774.0 1296.5,774.0 1288.2,788.0" fill="#ff00ff" stroke="#ff00ff" stroke-width="2" stroke-linejoin="round"/><polygon points="1291.5,776.9 1308.2,776.9 1299.8,790.9" fill="#ff00ff" stroke="#ff00ff" stroke-width="2" stroke-linejoin="round"/><polygon points="1303.2,779.9 1319.9,779.9 1311.5,793.9" fill="#ff00ff" stroke="#ff00ff" stroke-width="2" stroke-linejoin="round"/><polygon points="1314.8,782.2 1331.5,782.2 1323.2,796.2" fill="#ff00ff" stroke="#ff00ff" stroke-width="2" stroke-linejoin="round"/><polygon points="1326.5,784.3 1343.2,784.3 1334.8,798.3" fill="#ff00ff" stroke="#ff00ff" stroke-width="2" stroke-linejoin="round"/><polygon points="1338.2,786.4 1354.9,786.4 1346.5,800.4" fill="#ff00ff" stroke="#ff00ff" stroke-width="2" stroke-linejoin="round"/><polygon points="1349.8,788.5 1366.5,788.5 1358.2,802.5" fill="#ff00ff" stroke="#ff00ff" stroke-width="2" stroke-linejoin="round"/><polygon points="1361.5,790.8 1378.2,790.8 1369.8,804.8" fill="#ff00ff" stroke="#ff00ff" stroke-width="2" stroke-linejoin="round"/><polygon points="1373.2,792.1 1389.9,792.1 1381.5,806.1" fill="#ff00ff" stroke="#ff00ff" stroke-width="2" stroke-linejoin="round"/><polygon points="1384.8,793.6 1401.5,793.6 1393.2,807.5" fill="#ff00ff" stroke="#ff00ff" stroke-width="2" stroke-linejoin="round"/>
</g>
<g><polyline points="459.8,837.8 471.5,835.9 483.2,834.0 494.8,831.9 506.5,829.9 518.2,827.9 529.8,825.7 541.5,823.0 553.2,820.8 564.8,817.8 576.5,816.0 588.2,813.0 599.8,809.2 611.5,804.9 623.2,799.7 634.8,791.8 646.5,781.2 658.2,765.7 669.8,742.3 681.5,683.1 693.2,580.4 704.8,584.2 716.5,585.1 728.2,583.6 739.8,584.2 751.5,583.6 763.2,582.5 774.8,581.7 786.5,581.7 798.2,573.6 809.8,566.5 821.5,538.9 833.2,495.7 844.8,498.5 856.5,736.6 868.2,641.7 879.8,872.1 891.5,1011.6 903.2,1011.6 914.8,1011.6 926.5,1011.6 938.2,1011.6 949.8,991.6 961.5,972.1 973.2,676.6 984.8,688.8 996.5,808.3 1008.2,652.5 1019.8,436.5 1031.5,479.2 1043.2,549.7 1054.8,559.8 1066.5,567.1 1078.2,567.1 1089.8,566.5 1101.5,566.3 1113.2,566.3 1124.8,561.2 1136.5,559.0 1148.2,557.4 1159.8,554.2 1171.5,631.6 1183.2,681.1 1194.8,711.5 1206.5,741.9 1218.2,755.3 1229.8,769.1 1241.5,776.8 1253.2,785.3 1264.8,791.5 1276.5,795.8 1288.2,799.7 1299.8,802.7 1311.5,805.0 1323.2,807.7 1334.8,809.8 1346.5,812.1 1358.2,813.7 1369.8,814.9 1381.5,816.9 1393.2,818.6" fill="none" stroke="#008000" stroke-width="2.2" stroke-linejoin="round"/>
<polygon points="459.8,828.0 469.6,837.8 459.8,847.6 450.0,837.8" fill="#008000"/><polygon points="471.5,826.1 481.3,835.9 471.5,845.7 461.7,835.9" fill="#008000"/><polygon points="483.2,824.2 493.0,834.0 483.2,843.8 473.4,834.0" fill="#008000"/><polygon points="494.8,822.1 504.6,831.9 494.8,841.7 485.0,831.9" fill="#008000"/><polygon points="506.5,820.1 516.3,829.9 506.5,839.7 496.7,829.9" fill="#008000"/><polygon points="518.2,818.1 528.0,827.9 518.2,837.7 508.4,827.9" fill="#008000"/><polygon points="529.8,815.9 539.6,825.7 529.8,835.5 520.0,825.7" fill="#008000"/><polygon points="541.5,813.2 551.3,823.0 541.5,832.8 531.7,823.0" fill="#008000"/><polygon points="553.2,811.0 563.0,820.8 553.2,830.6 543.4,820.8" fill="#008000"/><polygon points="564.8,808.0 574.6,817.8 564.8,827.6 555.0,817.8" fill="#008000"/><polygon points="576.5,806.2 586.3,816.0 576.5,825.8 566.7,816.0" fill="#008000"/><polygon points="588.2,803.2 598.0,813.0 588.2,822.8 578.4,813.0" fill="#008000"/><polygon points="599.8,799.4 609.6,809.2 599.8,819.0 590.0,809.2" fill="#008000"/><polygon points="611.5,795.1 621.3,804.9 611.5,814.7 601.7,804.9" fill="#008000"/><polygon points="623.2,789.9 633.0,799.7 623.2,809.5 613.4,799.7" fill="#008000"/><polygon points="634.8,782.0 644.6,791.8 634.8,801.6 625.0,791.8" fill="#008000"/><polygon points="646.5,771.4 656.3,781.2 646.5,791.0 636.7,781.2" fill="#008000"/><polygon points="658.2,755.9 668.0,765.7 658.2,775.5 648.4,765.7" fill="#008000"/><polygon points="669.8,732.5 679.6,742.3 669.8,752.1 660.0,742.3" fill="#008000"/><polygon points="681.5,673.3 691.3,683.1 681.5,692.9 671.7,683.1" fill="#008000"/><polygon points="693.2,570.6 703.0,580.4 693.2,590.2 683.4,580.4" fill="#008000"/><polygon points="704.8,574.4 714.6,584.2 704.8,594.0 695.0,584.2" fill="#008000"/><polygon points="716.5,575.3 726.3,585.1 716.5,594.9 706.7,585.1" fill="#008000"/><polygon points="728.2,573.8 738.0,583.6 728.2,593.4 718.4,583.6" fill="#008000"/><polygon points="739.8,574.4 749.6,584.2 739.8,594.0 730.0,584.2" fill="#008000"/><polygon points="751.5,573.8 761.3,583.6 751.5,593.4 741.7,583.6" fill="#008000"/><polygon points="763.2,572.7 773.0,582.5 763.2,592.3 753.4,582.5" fill="#008000"/><polygon points="774.8,571.9 784.6,581.7 774.8,591.5 765.0,581.7" fill="#008000"/><polygon points="786.5,571.9 796.3,581.7 786.5,591.5 776.7,581.7" fill="#008000"/><polygon points="798.2,563.8 808.0,573.6 798.2,583.4 788.4,573.6" fill="#008000"/><polygon points="809.8,556.7 819.6,566.5 809.8,576.3 800.0,566.5" fill="#008000"/><polygon points="821.5,529.1 831.3,538.9 821.5,548.7 811.7,538.9" fill="#008000"/><polygon points="833.2,485.9 843.0,495.7 833.2,505.5 823.4,495.7" fill="#008000"/><polygon points="844.8,488.7 854.6,498.5 844.8,508.3 835.0,498.5" fill="#008000"/><polygon points="856.5,726.8 866.3,736.6 856.5,746.4 846.7,736.6" fill="#008000"/><polygon points="868.2,631.9 878.0,641.7 868.2,651.5 858.4,641.7" fill="#008000"/><polygon points="879.8,862.3 889.6,872.1 879.8,881.9 870.0,872.1" fill="#008000"/><polygon points="891.5,1001.8 901.3,1011.6 891.5,1021.4 881.7,1011.6" fill="#008000"/><polygon points="903.2,1001.8 913.0,1011.6 903.2,1021.4 893.4,1011.6" fill="#008000"/><polygon points="914.8,1001.8 924.6,1011.6 914.8,1021.4 905.0,1011.6" fill="#008000"/><polygon points="926.5,1001.8 936.3,1011.6 926.5,1021.4 916.7,1011.6" fill="#008000"/><polygon points="938.2,1001.8 948.0,1011.6 938.2,1021.4 928.4,1011.6" fill="#008000"/><polygon points="949.8,981.8 959.6,991.6 949.8,1001.4 940.0,991.6" fill="#008000"/><polygon points="961.5,962.3 971.3,972.1 961.5,981.9 951.7,972.1" fill="#008000"/><polygon points="973.2,666.8 983.0,676.6 973.2,686.4 963.4,676.6" fill="#008000"/><polygon points="984.8,679.0 994.6,688.8 984.8,698.6 975.0,688.8" fill="#008000"/><polygon points="996.5,798.5 1006.3,808.3 996.5,818.1 986.7,808.3" fill="#008000"/><polygon points="1008.2,642.7 1018.0,652.5 1008.2,662.3 998.4,652.5" fill="#008000"/><polygon points="1019.8,426.7 1029.6,436.5 1019.8,446.3 1010.0,436.5" fill="#008000"/><polygon points="1031.5,469.4 1041.3,479.2 1031.5,489.0 1021.7,479.2" fill="#008000"/><polygon points="1043.2,539.9 1053.0,549.7 1043.2,559.5 1033.4,549.7" fill="#008000"/><polygon points="1054.8,550.0 1064.6,559.8 1054.8,569.6 1045.0,559.8" fill="#008000"/><polygon points="1066.5,557.3 1076.3,567.1 1066.5,576.9 1056.7,567.1" fill="#008000"/><polygon points="1078.2,557.3 1088.0,567.1 1078.2,576.9 1068.4,567.1" fill="#008000"/><polygon points="1089.8,556.7 1099.6,566.5 1089.8,576.3 1080.0,566.5" fill="#008000"/><polygon points="1101.5,556.5 1111.3,566.3 1101.5,576.1 1091.7,566.3" fill="#008000"/><polygon points="1113.2,556.5 1123.0,566.3 1113.2,576.1 1103.4,566.3" fill="#008000"/><polygon points="1124.8,551.4 1134.6,561.2 1124.8,571.0 1115.0,561.2" fill="#008000"/><polygon points="1136.5,549.2 1146.3,559.0 1136.5,568.8 1126.7,559.0" fill="#008000"/><polygon points="1148.2,547.6 1158.0,557.4 1148.2,567.2 1138.4,557.4" fill="#008000"/><polygon points="1159.8,544.4 1169.6,554.2 1159.8,564.0 1150.0,554.2" fill="#008000"/><polygon points="1171.5,621.8 1181.3,631.6 1171.5,641.4 1161.7,631.6" fill="#008000"/><polygon points="1183.2,671.3 1193.0,681.1 1183.2,690.9 1173.4,681.1" fill="#008000"/><polygon points="1194.8,701.7 1204.6,711.5 1194.8,721.3 1185.0,711.5" fill="#008000"/><polygon points="1206.5,732.1 1216.3,741.9 1206.5,751.7 1196.7,741.9" fill="#008000"/><polygon points="1218.2,745.5 1228.0,755.3 1218.2,765.1 1208.4,755.3" fill="#008000"/><polygon points="1229.8,759.3 1239.6,769.1 1229.8,778.9 1220.0,769.1" fill="#008000"/><polygon points="1241.5,767.0 1251.3,776.8 1241.5,786.6 1231.7,776.8" fill="#008000"/><polygon points="1253.2,775.5 1263.0,785.3 1253.2,795.1 1243.4,785.3" fill="#008000"/><polygon points="1264.8,781.7 1274.6,791.5 1264.8,801.3 1255.0,791.5" fill="#008000"/><polygon points="1276.5,786.0 1286.3,795.8 1276.5,805.6 1266.7,795.8" fill="#008000"/><polygon points="1288.2,789.9 1298.0,799.7 1288.2,809.5 1278.4,799.7" fill="#008000"/><polygon points="1299.8,792.9 1309.6,802.7 1299.8,812.5 1290.0,802.7" fill="#008000"/><polygon points="1311.5,795.2 1321.3,805.0 1311.5,814.8 1301.7,805.0" fill="#008000"/><polygon points="1323.2,797.9 1333.0,807.7 1323.2,817.5 1313.4,807.7" fill="#008000"/><polygon points="1334.8,800.0 1344.6,809.8 1334.8,819.6 1325.0,809.8" fill="#008000"/><polygon points="1346.5,802.3 1356.3,812.1 1346.5,821.9 1336.7,812.1" fill="#008000"/><polygon points="1358.2,803.9 1368.0,813.7 1358.2,823.5 1348.4,813.7" fill="#008000"/><polygon points="1369.8,805.1 1379.6,814.9 1369.8,824.7 1360.0,814.9" fill="#008000"/><polygon points="1381.5,807.1 1391.3,816.9 1381.5,826.7 1371.7,816.9" fill="#008000"/><polygon points="1393.2,808.8 1403.0,818.6 1393.2,828.4 1383.4,818.6" fill="#008000"/>
</g>
<g fill="#000" shape-rendering="crispEdges">
<rect x="213" y="36" width="1427" height="5"/>
<rect x="213" y="1091" width="1427" height="5"/>
<rect x="213" y="36" width="5" height="1060"/>
<rect x="1635" y="36" width="5" height="1060"/>
<rect x="216" y="198" width="21" height="5"/>
<rect x="216" y="361" width="21" height="5"/>
<rect x="216" y="523" width="21" height="5"/>
<rect x="216" y="685" width="21" height="5"/>
<rect x="216" y="847" width="21" height="5"/>
<rect x="216" y="1009" width="21" height="5"/>
<rect x="216" y="117" width="10" height="5"/>
<rect x="216" y="279" width="10" height="5"/>
<rect x="216" y="442" width="10" height="5"/>
<rect x="216" y="604" width="10" height="5"/>
<rect x="216" y="766" width="10" height="5"/>
<rect x="216" y="928" width="10" height="5"/>
<rect x="569" y="1072" width="4" height="21"/>
<rect x="924" y="1072" width="5" height="21"/>
<rect x="1280" y="1072" width="5" height="21"/>
<rect x="391" y="1082" width="4" height="11"/>
<rect x="746" y="1082" width="5" height="11"/>
<rect x="1102" y="1082" width="5" height="11"/>
<rect x="1457" y="1082" width="5" height="11"/>
</g>
<text class="ser" transform="translate(193.0,55.2) scale(0.958,1)" text-anchor="end">1200</text>
<text class="ser" transform="translate(193.0,217.2) scale(0.958,1)" text-anchor="end">1000</text>
<text class="ser" transform="translate(193.0,380.2) scale(0.958,1)" text-anchor="end">800</text>
<text class="ser" transform="translate(193.0,542.2) scale(0.958,1)" text-anchor="end">600</text>
<text class="ser" transform="translate(193.0,704.2) scale(0.958,1)" text-anchor="end">400</text>
<text class="ser" transform="translate(193.0,866.2) scale(0.958,1)" text-anchor="end">200</text>
<text class="ser" transform="translate(193.0,1028.2) scale(0.958,1)" text-anchor="end">0</text>
<text class="ser" transform="translate(184.25,1158.0) scale(0.958,1)"><tspan dy="1.2" textLength="37.9" lengthAdjust="spacingAndGlyphs">−</tspan><tspan dx="-3.4" dy="-1.2">4</tspan></text>
<text class="ser" transform="translate(539.75,1158.0) scale(0.958,1)"><tspan dy="1.2" textLength="37.9" lengthAdjust="spacingAndGlyphs">−</tspan><tspan dx="-3.4" dy="-1.2">2</tspan></text>
<text class="ser" transform="translate(926.5,1158.0) scale(0.958,1)" text-anchor="middle">0</text>
<text class="ser" transform="translate(1282,1158.0) scale(0.958,1)" text-anchor="middle">2</text>
<text class="ser" transform="translate(1637.5,1158.0) scale(0.958,1)" text-anchor="middle">4</text>
<text class="san" font-size="55" x="927" y="1247.5" text-anchor="middle">Along the X-axis / mm</text>
<text class="san" font-size="54.4" transform="translate(60.9,565.2) rotate(-90)" text-anchor="middle">Stress / MPa</text>
<text transform="translate(831,1344.2) scale(0.975,1)" text-anchor="middle" font-family="'Liberation Serif','Times New Roman',serif" font-size="75.5" fill="#000">(<tspan font-weight="bold">a</tspan>)</text>
<rect x="1183" y="50" width="429" height="315" fill="#fff" stroke="#000" stroke-width="2" shape-rendering="crispEdges"/>
<line x1="1216.5" y1="89.7" x2="1330.5" y2="89.7" stroke="#000000" stroke-width="1.4"/>
<rect x="1266.7" y="83.9" width="14" height="14" fill="#000000"/>
<text class="san" font-size="50" x="1345.6" y="107.2">10th year</text>
<line x1="1216.5" y1="151.3" x2="1330.5" y2="151.3" stroke="#ff0000" stroke-width="3.0"/>
<circle cx="1273.3" cy="151.3" r="7.6" fill="#ff0000"/>
<text class="san" font-size="50" x="1345.6" y="168.8">15th year</text>
<line x1="1216.5" y1="213.6" x2="1330.5" y2="213.6" stroke="#0000ff" stroke-width="2.0"/>
<polygon points="1273.3,203.9 1281.6,217.9 1265.0,217.9" fill="#0000ff" stroke="#0000ff" stroke-width="2" stroke-linejoin="round"/>
<text class="san" font-size="50" x="1345.6" y="231.1">20th year</text>
<line x1="1216.5" y1="274.9" x2="1330.5" y2="274.9" stroke="#ff00ff" stroke-width="2.0"/>
<polygon points="1265.0,270.6 1281.6,270.6 1273.3,284.5" fill="#ff00ff" stroke="#ff00ff" stroke-width="2" stroke-linejoin="round"/>
<text class="san" font-size="50" x="1345.6" y="292.4">25th year</text>
<line x1="1216.5" y1="336.5" x2="1330.5" y2="336.5" stroke="#008000" stroke-width="2.0"/>
<polygon points="1273.3,326.7 1283.1,336.5 1273.3,346.3 1263.5,336.5" fill="#008000"/>
<text class="san" font-size="50" x="1345.6" y="354.0">29.5th year</text>
</svg>
</body></html>
